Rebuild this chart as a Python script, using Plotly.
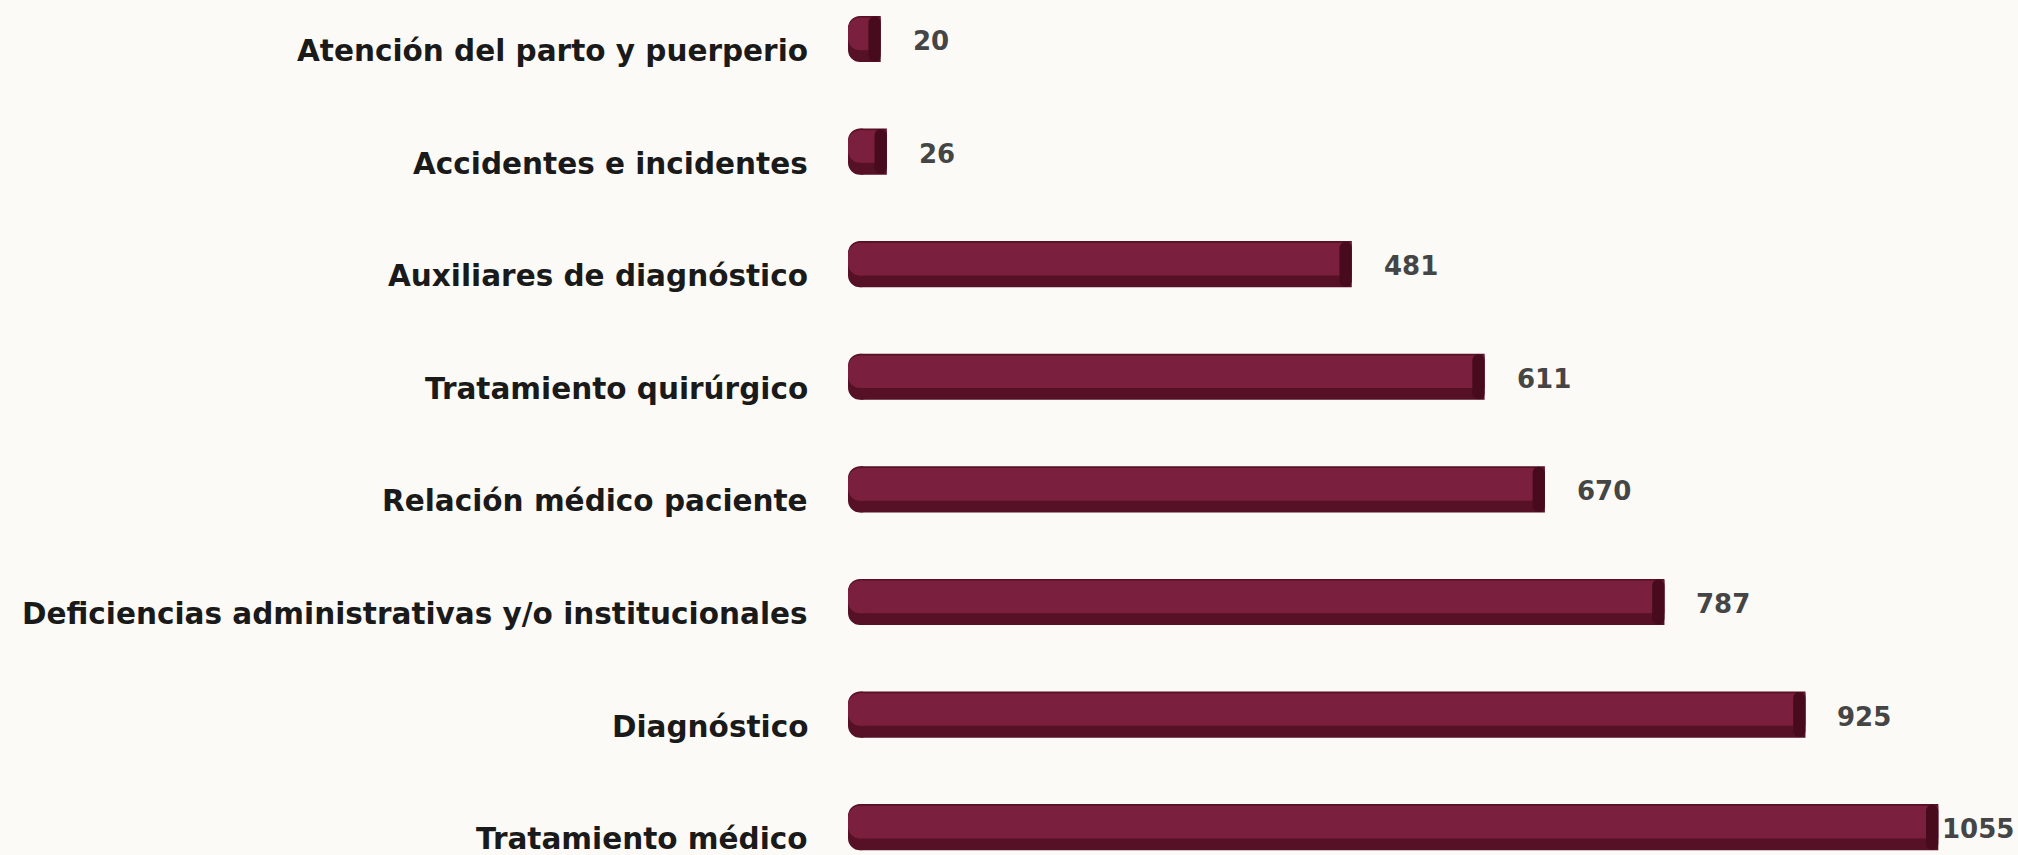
import plotly.graph_objects as go

# Quejas por motivo
categorias = [
    "Atención del parto y puerperio",
    "Accidentes e incidentes",
    "Auxiliares de diagnóstico",
    "Tratamiento quirúrgico",
    "Relación médico paciente",
    "Deficiencias administrativas y/o institucionales",
    "Diagnóstico",
    "Tratamiento médico",
]
valores = [20, 26, 481, 611, 670, 787, 925, 1055]

color_base = "#561126"
color_cuerpo = "#7a1f3d"
color_tapa = "#470b1d"
font_fam = "DejaVu Sans"

n = len(valores)
cap = 12  # medio ancho de la elipse de los extremos

fig = go.Figure()

# capa oscura: cuerpo y extremo izquierdo redondeado
fig.add_trace(go.Bar(
    y=categorias, x=valores, orientation="h",
    marker=dict(color=color_base, line=dict(width=0)),
    width=0.41, offset=-0.205, hoverinfo="skip", showlegend=False,
))
fig.add_trace(go.Bar(
    y=categorias, x=[-2 * cap] * n, base=[cap] * n, orientation="h",
    marker=dict(color=color_base, cornerradius=16, line=dict(width=0)),
    width=0.41, offset=-0.205, hoverinfo="skip", showlegend=False,
))
# capa de brillo
fig.add_trace(go.Bar(
    y=categorias, x=valores, orientation="h",
    marker=dict(color=color_cuerpo, line=dict(width=0)),
    width=0.29, offset=-0.19, showlegend=False,
    hovertemplate="%{y}: %{x}<extra></extra>",
))
fig.add_trace(go.Bar(
    y=categorias, x=[-2 * cap] * n, base=[cap] * n, orientation="h",
    marker=dict(color=color_cuerpo, cornerradius=12, line=dict(width=0)),
    width=0.29, offset=-0.19, hoverinfo="skip", showlegend=False,
))
# cara del extremo derecho
fig.add_trace(go.Bar(
    y=categorias, x=[cap] * n, base=[v - cap for v in valores],
    orientation="h",
    marker=dict(color=color_tapa, cornerradius=12, line=dict(width=0)),
    width=0.40, offset=-0.2, hoverinfo="skip", showlegend=False,
))

# etiquetas de categoria
for c in categorias:
    fig.add_annotation(
        x=-cap, y=c, xref="x", yref="y", text=c, showarrow=False,
        xanchor="right", yanchor="middle", xshift=-38, yshift=-12,
        font=dict(family=font_fam, size=29.5, color="#1a1a1a", weight=700),
    )

# etiquetas de valor
for c, v in zip(categorias, valores):
    sh = 2 if v == max(valores) else 30
    fig.add_annotation(
        x=v, y=c, xref="x", yref="y", text=str(v), showarrow=False,
        xanchor="left", yanchor="middle", xshift=sh, yshift=-2,
        font=dict(family=font_fam, size=26, color="#454545", weight=700),
    )

fig.update_layout(
    barmode="overlay",
    width=2018, height=855,
    margin=dict(l=848, r=0, t=0, b=0),
    paper_bgcolor="#fcfaf6",
    plot_bgcolor="rgba(0,0,0,0)",
    xaxis=dict(range=[-cap, 1133], visible=False),
    yaxis=dict(
        type="category", categoryorder="array", categoryarray=categorias,
        range=[7.247, -0.346], visible=False,
    ),
)

fig.write_html("out.html", config={"displayModeBar": False},
               post_script="document.body.style.margin='0';")
